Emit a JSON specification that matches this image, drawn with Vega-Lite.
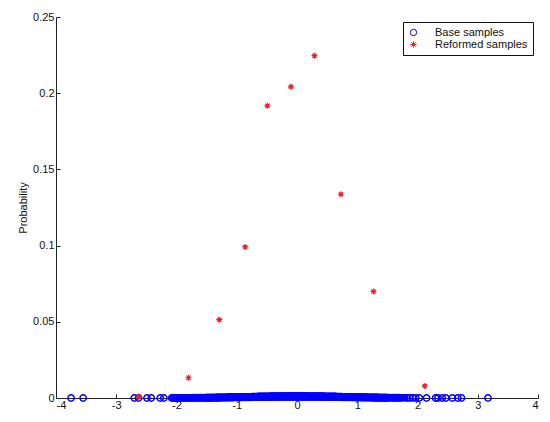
{
  "$schema": "https://vega.github.io/schema/vega-lite/v6.json",
  "width": 482,
  "height": 381,
  "autosize": {"type": "none"},
  "padding": {"left": 56, "top": 17, "right": 12, "bottom": 24},
  "background": "white",
  "config": {
    "view": {"stroke": null},
    "font": "Liberation Sans",
    "axis": {"grid": false, "domainColor": "#222", "tickColor": "#222", "tickWidth": 1, "labelColor": "#111", "labelFontSize": 11, "titleFontSize": 11, "titleFontWeight": "normal", "titleColor": "#111", "labelFont": "Liberation Sans", "titleFont": "Liberation Sans"}
  },
  "datasets": {
    "base": [
      {"x":-3.75,"p":0.00001},{"x":-3.55,"p":0.00001},{"x":-2.7,"p":0.00001},{"x":-2.63,"p":0.00001},{"x":-2.49,"p":0.00001},{"x":-2.42,"p":0.00001},{"x":-2.27,"p":0.00002},{"x":-2.21,"p":0.00002},
      {"x":-2.08,"p":0.00006},{"x":-2.06,"p":0.00003},{"x":-2.04,"p":0.00006},{"x":-2.02,"p":0.00003},{"x":-2.0,"p":0.00006},{"x":-1.98,"p":0.00003},{"x":-1.96,"p":0.00006},{"x":-1.94,"p":0.00004},{"x":-1.92,"p":0.00008},{"x":-1.9,"p":0.00004},{"x":-1.88,"p":0.00008},{"x":-1.86,"p":0.00005},{"x":-1.84,"p":0.0001},{"x":-1.82,"p":0.00005},{"x":-1.8,"p":0.0001},{"x":-1.78,"p":0.00006},{"x":-1.76,"p":0.0001},{"x":-1.74,"p":0.00007},{"x":-1.72,"p":0.00014},{"x":-1.7,"p":0.00008},{"x":-1.68,"p":0.00014},{"x":-1.66,"p":0.00009},{"x":-1.64,"p":0.00018},{"x":-1.62,"p":0.0001},{"x":-1.6,"p":0.00018},{"x":-1.58,"p":0.00011},{"x":-1.56,"p":0.00018},{"x":-1.54,"p":0.00012},{"x":-1.52,"p":0.00022},
      {"x":-1.51,"p":0.00013},{"x":-1.5,"p":0.00022},{"x":-1.49,"p":0.00014},{"x":-1.48,"p":0.00022},{"x":-1.47,"p":0.00015},{"x":-1.46,"p":0.00022},{"x":-1.45,"p":0.00016},{"x":-1.44,"p":0.00028},{"x":-1.43,"p":0.00017},{"x":-1.42,"p":0.00028},{"x":-1.41,"p":0.00018},{"x":-1.4,"p":0.00028},{"x":-1.39,"p":0.00019},{"x":-1.38,"p":0.00028},{"x":-1.37,"p":0.0002},{"x":-1.36,"p":0.00028},{"x":-1.35,"p":0.00021},{"x":-1.34,"p":0.00035},{"x":-1.33,"p":0.00022},{"x":-1.32,"p":0.00035},{"x":-1.31,"p":0.00023},{"x":-1.3,"p":0.00035},{"x":-1.29,"p":0.00024},{"x":-1.28,"p":0.00035},{"x":-1.27,"p":0.00025},{"x":-1.26,"p":0.00035},{"x":-1.25,"p":0.00026},{"x":-1.24,"p":0.00042},{"x":-1.23,"p":0.00027},{"x":-1.22,"p":0.00042},{"x":-1.21,"p":0.00028},{"x":-1.2,"p":0.00042},{"x":-1.19,"p":0.00029},{"x":-1.18,"p":0.00042},{"x":-1.17,"p":0.0003},{"x":-1.16,"p":0.00042},{"x":-1.15,"p":0.00031},{"x":-1.14,"p":0.00051},{"x":-1.13,"p":0.00032},{"x":-1.12,"p":0.00051},{"x":-1.11,"p":0.00033},{"x":-1.1,"p":0.00051},{"x":-1.09,"p":0.00034},{"x":-1.08,"p":0.00051},{"x":-1.07,"p":0.00035},{"x":-1.06,"p":0.00051},{"x":-1.05,"p":0.00036},{"x":-1.04,"p":0.0006},{"x":-1.03,"p":0.00037},{"x":-1.02,"p":0.0006},{"x":-1.01,"p":0.00038},{"x":-1.0,"p":0.0006},{"x":-0.99,"p":0.00039},{"x":-0.98,"p":0.0006},{"x":-0.97,"p":0.0004},{"x":-0.96,"p":0.0006},{"x":-0.95,"p":0.00041},{"x":-0.94,"p":0.00069},{"x":-0.93,"p":0.00042},{"x":-0.92,"p":0.00069},{"x":-0.91,"p":0.00043},{"x":-0.9,"p":0.00069},{"x":-0.89,"p":0.00044},{"x":-0.88,"p":0.00069},{"x":-0.87,"p":0.00045},{"x":-0.86,"p":0.00069},{"x":-0.85,"p":0.00046},{"x":-0.84,"p":0.00079},{"x":-0.83,"p":0.00047},{"x":-0.82,"p":0.00079},{"x":-0.81,"p":0.00048},{"x":-0.8,"p":0.00079},{"x":-0.79,"p":0.00049},{"x":-0.78,"p":0.00079},{"x":-0.77,"p":0.0005},{"x":-0.76,"p":0.00079},{"x":-0.75,"p":0.00051},{"x":-0.74,"p":0.00089},{"x":-0.73,"p":0.00052},{"x":-0.72,"p":0.00089},{"x":-0.71,"p":0.00053},{"x":-0.7,"p":0.00089},{"x":-0.69,"p":0.00054},{"x":-0.68,"p":0.00089},{"x":-0.67,"p":0.00055},{"x":-0.66,"p":0.00089},{"x":-0.65,"p":0.00056},{"x":-0.64,"p":0.00098},{"x":-0.63,"p":0.00057},{"x":-0.62,"p":0.00098},{"x":-0.61,"p":0.00058},{"x":-0.6,"p":0.00098},{"x":-0.59,"p":0.00059},{"x":-0.58,"p":0.00098},{"x":-0.57,"p":0.0006},{"x":-0.56,"p":0.00098},{"x":-0.55,"p":0.00061},{"x":-0.54,"p":0.00107},{"x":-0.53,"p":0.00062},{"x":-0.52,"p":0.00107},{"x":-0.51,"p":0.00063},{"x":-0.5,"p":0.00107},{"x":-0.49,"p":0.00064},{"x":-0.48,"p":0.00107},{"x":-0.47,"p":0.00065},{"x":-0.46,"p":0.00107},{"x":-0.45,"p":0.00066},{"x":-0.44,"p":0.00115},{"x":-0.43,"p":0.00067},{"x":-0.42,"p":0.00115},{"x":-0.41,"p":0.00068},{"x":-0.4,"p":0.00115},{"x":-0.39,"p":0.00069},{"x":-0.38,"p":0.00115},{"x":-0.37,"p":0.0007},{"x":-0.36,"p":0.00115},{"x":-0.35,"p":0.0007},{"x":-0.34,"p":0.00121},{"x":-0.33,"p":0.0007},{"x":-0.32,"p":0.00121},{"x":-0.31,"p":0.0007},{"x":-0.3,"p":0.00121},{"x":-0.29,"p":0.0007},{"x":-0.28,"p":0.00121},{"x":-0.27,"p":0.0007},{"x":-0.26,"p":0.00121},{"x":-0.25,"p":0.0007},{"x":-0.24,"p":0.00126},{"x":-0.23,"p":0.0007},{"x":-0.22,"p":0.00126},{"x":-0.21,"p":0.0007},{"x":-0.2,"p":0.00126},{"x":-0.19,"p":0.0007},{"x":-0.18,"p":0.00126},{"x":-0.17,"p":0.0007},{"x":-0.16,"p":0.00126},{"x":-0.15,"p":0.0007},{"x":-0.14,"p":0.00129},{"x":-0.13,"p":0.0007},{"x":-0.12,"p":0.00129},{"x":-0.11,"p":0.0007},{"x":-0.1,"p":0.00129},{"x":-0.09,"p":0.0007},{"x":-0.08,"p":0.00129},{"x":-0.07,"p":0.0007},{"x":-0.06,"p":0.00129},{"x":-0.05,"p":0.0007},{"x":-0.04,"p":0.0013},{"x":-0.03,"p":0.0007},{"x":-0.02,"p":0.0013},{"x":-0.01,"p":0.0007},{"x":0.0,"p":0.0013},{"x":0.01,"p":0.0007},{"x":0.02,"p":0.0013},{"x":0.03,"p":0.0007},{"x":0.04,"p":0.0013},{"x":0.05,"p":0.0007},{"x":0.06,"p":0.00129},{"x":0.07,"p":0.0007},{"x":0.08,"p":0.00129},{"x":0.09,"p":0.0007},{"x":0.1,"p":0.00129},{"x":0.11,"p":0.0007},{"x":0.12,"p":0.00129},{"x":0.13,"p":0.0007},{"x":0.14,"p":0.00129},{"x":0.15,"p":0.0007},{"x":0.16,"p":0.00126},{"x":0.17,"p":0.0007},{"x":0.18,"p":0.00126},{"x":0.19,"p":0.0007},{"x":0.2,"p":0.00126},{"x":0.21,"p":0.0007},{"x":0.22,"p":0.00126},{"x":0.23,"p":0.0007},{"x":0.24,"p":0.00126},{"x":0.25,"p":0.0007},{"x":0.26,"p":0.00121},{"x":0.27,"p":0.0007},{"x":0.28,"p":0.00121},{"x":0.29,"p":0.0007},{"x":0.3,"p":0.00121},{"x":0.31,"p":0.0007},{"x":0.32,"p":0.00121},{"x":0.33,"p":0.0007},{"x":0.34,"p":0.00121},{"x":0.35,"p":0.0007},{"x":0.36,"p":0.00115},{"x":0.37,"p":0.0007},{"x":0.38,"p":0.00115},{"x":0.39,"p":0.00069},{"x":0.4,"p":0.00115},{"x":0.41,"p":0.00068},{"x":0.42,"p":0.00115},{"x":0.43,"p":0.00067},{"x":0.44,"p":0.00115},{"x":0.45,"p":0.00066},{"x":0.46,"p":0.00107},{"x":0.47,"p":0.00065},{"x":0.48,"p":0.00107},{"x":0.49,"p":0.00064},{"x":0.5,"p":0.00107},{"x":0.51,"p":0.00063},{"x":0.52,"p":0.00107},{"x":0.53,"p":0.00062},{"x":0.54,"p":0.00107},{"x":0.55,"p":0.00061},{"x":0.56,"p":0.00098},{"x":0.57,"p":0.0006},{"x":0.58,"p":0.00098},{"x":0.59,"p":0.00059},{"x":0.6,"p":0.00098},{"x":0.61,"p":0.00058},{"x":0.62,"p":0.00098},{"x":0.63,"p":0.00057},{"x":0.64,"p":0.00098},{"x":0.65,"p":0.00056},{"x":0.66,"p":0.00089},{"x":0.67,"p":0.00055},{"x":0.68,"p":0.00089},{"x":0.69,"p":0.00054},{"x":0.7,"p":0.00089},{"x":0.71,"p":0.00053},{"x":0.72,"p":0.00089},{"x":0.73,"p":0.00052},{"x":0.74,"p":0.00089},{"x":0.75,"p":0.00051},{"x":0.76,"p":0.00079},{"x":0.77,"p":0.0005},{"x":0.78,"p":0.00079},{"x":0.79,"p":0.00049},{"x":0.8,"p":0.00079},{"x":0.81,"p":0.00048},{"x":0.82,"p":0.00079},{"x":0.83,"p":0.00047},{"x":0.84,"p":0.00079},{"x":0.85,"p":0.00046},{"x":0.86,"p":0.00069},{"x":0.87,"p":0.00045},{"x":0.88,"p":0.00069},{"x":0.89,"p":0.00044},{"x":0.9,"p":0.00069},{"x":0.91,"p":0.00043},{"x":0.92,"p":0.00069},{"x":0.93,"p":0.00042},{"x":0.94,"p":0.00069},{"x":0.95,"p":0.00041},{"x":0.96,"p":0.0006},{"x":0.97,"p":0.0004},{"x":0.98,"p":0.0006},{"x":0.99,"p":0.00039},{"x":1.0,"p":0.0006},{"x":1.01,"p":0.00038},{"x":1.02,"p":0.0006},{"x":1.03,"p":0.00037},{"x":1.04,"p":0.0006},{"x":1.05,"p":0.00036},{"x":1.06,"p":0.00051},{"x":1.07,"p":0.00035},{"x":1.08,"p":0.00051},{"x":1.09,"p":0.00034},{"x":1.1,"p":0.00051},{"x":1.11,"p":0.00033},{"x":1.12,"p":0.00051},{"x":1.13,"p":0.00032},{"x":1.14,"p":0.00051},{"x":1.15,"p":0.00031},{"x":1.16,"p":0.00042},{"x":1.17,"p":0.0003},{"x":1.18,"p":0.00042},{"x":1.19,"p":0.00029},{"x":1.2,"p":0.00042},{"x":1.21,"p":0.00028},{"x":1.22,"p":0.00042},{"x":1.23,"p":0.00027},{"x":1.24,"p":0.00042},{"x":1.25,"p":0.00026},{"x":1.26,"p":0.00035},{"x":1.27,"p":0.00025},{"x":1.28,"p":0.00035},{"x":1.29,"p":0.00024},{"x":1.3,"p":0.00035},{"x":1.31,"p":0.00023},{"x":1.32,"p":0.00035},{"x":1.33,"p":0.00022},{"x":1.34,"p":0.00035},{"x":1.35,"p":0.00021},{"x":1.36,"p":0.00028},{"x":1.37,"p":0.0002},{"x":1.38,"p":0.00028},{"x":1.39,"p":0.00019},{"x":1.4,"p":0.00028},{"x":1.41,"p":0.00018},{"x":1.42,"p":0.00028},{"x":1.43,"p":0.00017},{"x":1.44,"p":0.00028},{"x":1.45,"p":0.00016},{"x":1.46,"p":0.00022},{"x":1.47,"p":0.00015},{"x":1.48,"p":0.00022},{"x":1.49,"p":0.00014},{"x":1.5,"p":0.00022},
      {"x":1.52,"p":0.00013},{"x":1.54,"p":0.00022},{"x":1.56,"p":0.00012},{"x":1.58,"p":0.00018},{"x":1.6,"p":0.00011},{"x":1.62,"p":0.00018},{"x":1.64,"p":0.0001},{"x":1.66,"p":0.00014},{"x":1.68,"p":0.00009},{"x":1.7,"p":0.00014},{"x":1.72,"p":0.00008},{"x":1.75,"p":0.00012},{"x":1.79,"p":0.0001},{"x":1.83,"p":0.00007},{"x":1.87,"p":0.00008},{"x":1.92,"p":0.00006},{"x":1.97,"p":0.00006},
      {"x":2.03,"p":0.00004},{"x":2.15,"p":0.00002},{"x":2.3,"p":0.00002},{"x":2.34,"p":0.00002},{"x":2.41,"p":0.00001},{"x":2.47,"p":0.00001},{"x":2.58,"p":0.00001},{"x":2.67,"p":0.00001},{"x":2.73,"p":0.00001},{"x":3.17,"p":0.00001}
    ],
    "reformed": [
      {"x":-2.63,"p":0.0008},{"x":-1.8,"p":0.0133},{"x":-1.29,"p":0.0514},{"x":-0.86,"p":0.0991},{"x":-0.49,"p":0.1917},{"x":-0.1,"p":0.2042},{"x":0.29,"p":0.2246},{"x":0.73,"p":0.1337},{"x":1.27,"p":0.0699},{"x":2.12,"p":0.0079}
    ]
  },
  "layer": [
    {
      "data": {"name": "base"},
      "mark": {"type": "point", "filled": false, "opacity": 1, "strokeWidth": 1.5, "size": 40},
      "encoding": {
        "x": {"field": "x", "type": "quantitative", "scale": {"domain": [-4, 4], "nice": false},
          "axis": {"values": [-4,-3,-2,-1,0,1,2,3,4], "format": "d", "title": null, "tickSize": -4, "labelPadding": 5, "labelExpr": "replace(datum.label, '\u2212', '-')"}},
        "y": {"field": "p", "type": "quantitative", "scale": {"domain": [0, 0.25], "nice": false},
          "axis": {"values": [0,0.05,0.1,0.15,0.2,0.25], "format": ".2~f", "title": "Probability", "tickSize": -4, "labelPadding": 6, "titlePadding": 4}},
        "color": {"datum": "Base samples", "type": "nominal",
          "scale": {"domain": ["Base samples", "Reformed samples"], "range": ["#0000ff", "#e8202a"]},
          "legend": {"title": null, "orient": "top-right", "offset": 5, "strokeColor": "#111", "fillColor": "white", "padding": 5, "labelFontSize": 11, "labelColor": "#111", "labelFont": "Liberation Sans", "labelOffset": 16, "rowPadding": 0, "symbolStrokeWidth": 1, "symbolSize": 40}},
        "shape": {"datum": "Base samples", "type": "nominal",
          "scale": {"domain": ["Base samples", "Reformed samples"], "range": ["circle", "M0,-1L0,1M-1,0L1,0M-0.7,-0.7L0.7,0.7M-0.7,0.7L0.7,-0.7"]}}
      }
    },
    {
      "data": {"name": "reformed"},
      "mark": {"type": "point", "filled": false, "opacity": 1, "strokeWidth": 1.2, "size": 36},
      "encoding": {
        "x": {"field": "x", "type": "quantitative"},
        "y": {"field": "p", "type": "quantitative"},
        "color": {"datum": "Reformed samples", "type": "nominal"},
        "shape": {"datum": "Reformed samples", "type": "nominal"}
      }
    }
  ]
}
